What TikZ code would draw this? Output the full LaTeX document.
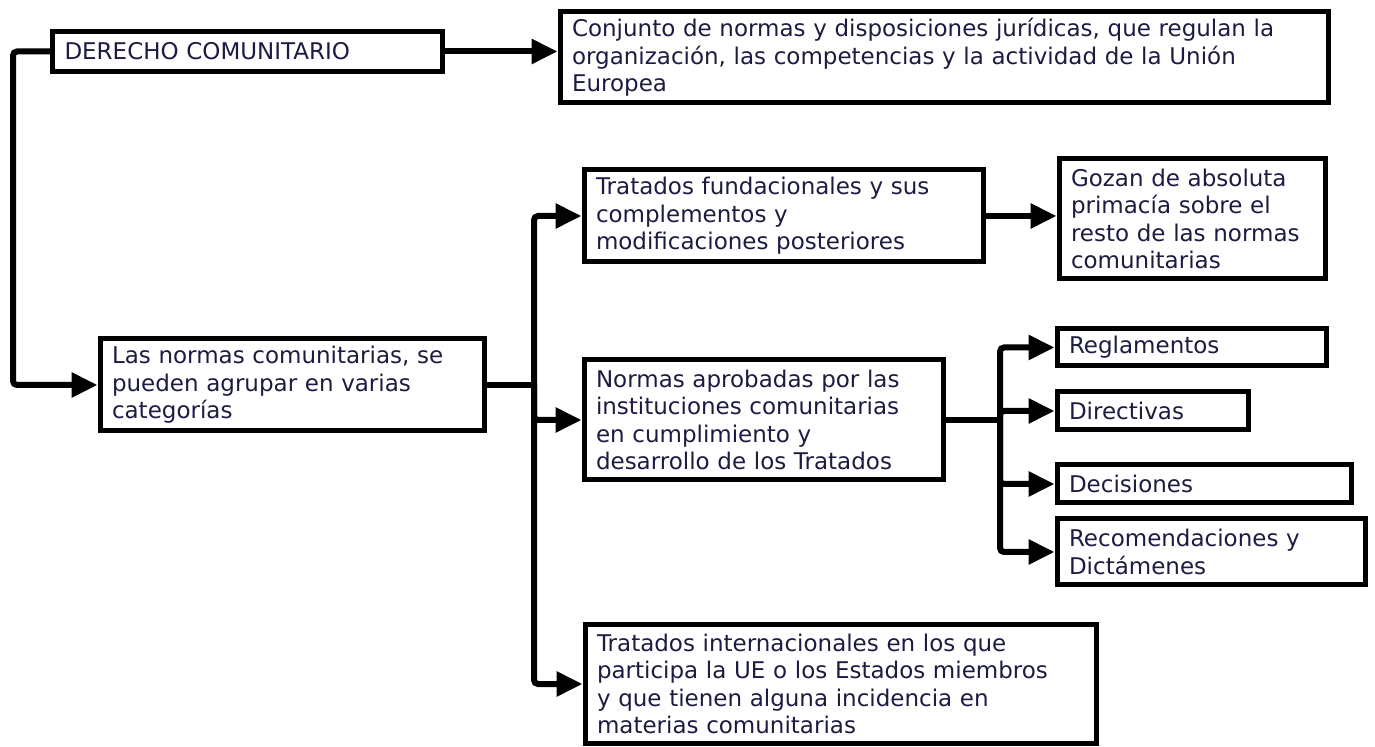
\documentclass[tikz,border=0pt]{standalone}
\usepackage{fontspec}
\setmainfont{DejaVu Sans}
\usetikzlibrary{arrows.meta}
\definecolor{ink}{RGB}{28,28,66}
\tikzset{
  box/.style={draw, line width=2.5pt, align=left, inner xsep=6pt, inner ysep=2pt, text=ink,
    font=\fontsize{11.5}{13.75}\selectfont},
  link/.style={line width=3pt, rounded corners=2pt, -{Triangle[length=13pt,width=12pt]}},
  bar/.style={line width=3pt}
}
\begin{document}
\begin{tikzpicture}[x=0.5pt,y=-0.5pt]
    \useasboundingbox (0,0) rectangle (1375,747);
    \node[box, minimum width=195pt, minimum height=20pt, text width=183pt] (der) at (247.5,51.5) {DERECHO COMUNITARIO};
    \node[box, minimum width=384pt, minimum height=45.5pt, text width=372pt] (conj) at (944,57.5)
        {Conjunto de normas y disposiciones jurídicas, que regulan la\\ organización, las competencias y la actividad de la Unión\\ Europea};
    \node[box, minimum width=192pt, minimum height=46pt, text width=180pt] (cat) at (292,385)
        {Las normas comunitarias, se\\ pueden agrupar en varias\\ categorías};
    \node[box, minimum width=199.5pt, minimum height=46pt, text width=187.5pt] (fund) at (783.5,216)
        {Tratados fundacionales y sus\\ complementos y\\ modificaciones posteriores};
    \node[box, minimum width=133pt, minimum height=60pt, text width=121pt] (gozan) at (1192,219)
        {Gozan de absoluta\\ primacía sobre el\\ resto de las normas\\ comunitarias};
    \node[box, minimum width=179.5pt, minimum height=60pt, text width=167.5pt] (norm) at (763.5,420)
        {Normas aprobadas por las\\ instituciones comunitarias\\ en cumplimiento y\\ desarrollo de los Tratados};
    \node[box, minimum width=255.5pt, minimum height=59pt, text width=243.5pt] (intl) at (840.5,684)
        {Tratados internacionales en los que\\ participa la UE o los Estados miembros\\ y que tienen alguna incidencia en\\ materias comunitarias};
    \node[box, minimum width=134.5pt, minimum height=18.5pt, text width=122.5pt] (regl) at (1191.5,347.5) {Reglamentos};
    \node[box, minimum width=95.5pt, minimum height=19pt, text width=83.5pt] (dir) at (1152.5,411) {Directivas};
    \node[box, minimum width=147pt, minimum height=19pt, text width=135pt] (dec) at (1204,484) {Decisiones};
    \node[box, minimum width=154pt, minimum height=33pt, text width=142pt] (rec) at (1211,552)
        {Recomendaciones y\\ Dictámenes};
    \coordinate (lft) at (13,200);
    \coordinate (t1) at (534,385);
    \coordinate (t2) at (1000,420);
    \draw[link] (der.east) -- (der.east -| conj.west);
    \draw[link] (der.west) -| (lft) |- (cat.west);
    \draw[bar] (cat.east) -- (t1);
    \foreach \n in {fund,norm,intl}
        {\draw[link] (t1) |- (\n.west);
        }
    \draw[link] (fund.east) -- (fund.east -| gozan.west);
    \draw[bar] (norm.east) -- (t2);
    \foreach \n in {regl,dir,dec,rec}
        {\draw[link] (t2) |- (\n.west);
        }
\end{tikzpicture}
\end{document}
